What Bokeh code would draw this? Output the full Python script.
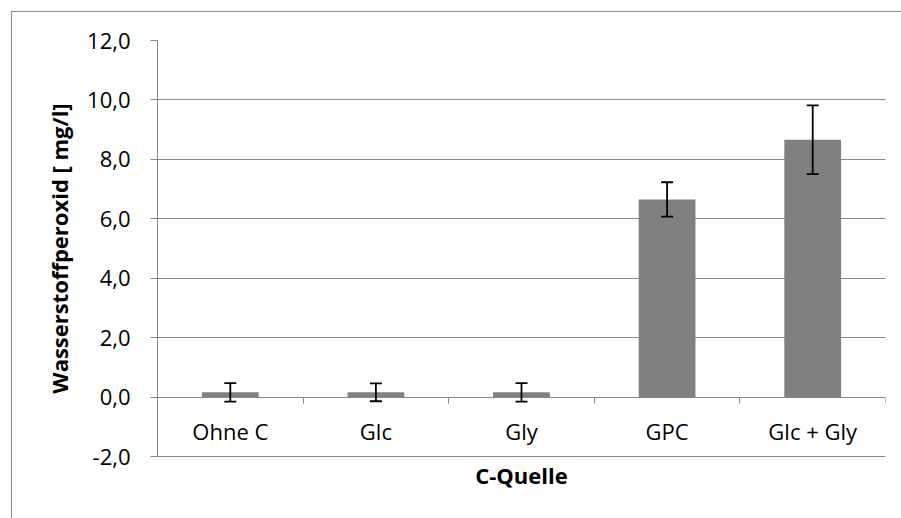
from bokeh.plotting import figure
from bokeh.models import (ColumnDataSource, Range1d, LinearAxis, FixedTicker,
                          CustomJSTickFormatter, Whisker, TeeHead, InlineStyleSheet)
from bokeh.core.properties import value
from bokeh.embed import file_html
from bokeh.resources import INLINE

categories = ["Ohne C", "Glc", "Gly", "GPC", "Glc + Gly"]
values = [0.16, 0.16, 0.16, 6.65, 8.66]
errors = [0.31, 0.30, 0.31, 0.58, 1.16]
y_ticks = [-2, 0, 2, 4, 6, 8, 10, 12]

FONT = "Open Sans"
GRID = "#878787"

n = len(categories)
xs = [i + 0.5 for i in range(n)]
src = ColumnDataSource(dict(
    x=xs, top=values, cat=categories, zero=[0] * n,
    upper=[v + e for v, e in zip(values, errors)],
    lower=[v - e for v, e in zip(values, errors)],
))

p = figure(width=901, height=518, output_backend="svg", toolbar_location=None,
           x_range=Range1d(0, n), y_range=Range1d(y_ticks[0], y_ticks[-1]),
           min_border_left=157, min_border_right=16, min_border_top=40,
           min_border_bottom=62)
p.outline_line_color = None
p.background_fill_color = "white"
p.border_fill_color = None

# chart-area border: top and left edges (right/bottom lie outside the picture)
p.stylesheets = [InlineStyleSheet(css=(
    ":host { background-color: white;"
    " background-image: linear-gradient(#878787, #878787), linear-gradient(#878787, #878787);"
    " background-size: 1px 100%, 100% 1px;"
    " background-position: 11px 11px, 11px 11px;"
    " background-repeat: no-repeat; }"
))]

# bottom axis: its line is the -2 gridline; carries the x title
ax1 = p.xaxis[0]
ax1.ticker = FixedTicker(ticks=[])
ax1.major_tick_out = 0
ax1.major_tick_in = 0
ax1.minor_tick_out = 0
ax1.minor_tick_in = 0
ax1.major_label_standoff = 0
ax1.axis_line_color = GRID
ax1.axis_label = "C-Quelle"
ax1.axis_label_text_font = FONT
ax1.axis_label_text_font_style = "bold"
ax1.axis_label_text_font_size = "22px"
ax1.axis_label_text_color = "black"
ax1.axis_label_standoff = 3

# category axis line crossing at y = 0 with boundary ticks
ax2 = LinearAxis(fixed_location=0,
                 ticker=FixedTicker(ticks=[], minor_ticks=list(range(n + 1))))
ax2.major_tick_out = 0
ax2.major_tick_in = 0
ax2.minor_tick_out = 6
ax2.minor_tick_in = 0
ax2.minor_tick_line_color = GRID
ax2.axis_line_color = GRID
ax2.major_label_standoff = 0
p.add_layout(ax2, "below")

# y axis
ay = p.yaxis[0]
ay.ticker = FixedTicker(ticks=y_ticks)
ay.formatter = CustomJSTickFormatter(code="return tick.toFixed(1).replace('.', ',');")
ay.major_tick_out = 7
ay.major_tick_in = 0
ay.minor_tick_out = 0
ay.minor_tick_in = 0
ay.major_tick_line_color = GRID
ay.axis_line_color = GRID
ay.major_label_standoff = 20
ay.major_label_text_font = FONT
ay.major_label_text_font_size = "22px"
ay.major_label_text_color = "black"
ay.axis_label = "Wasserstoffperoxid [ mg/l]"
ay.axis_label_text_font = FONT
ay.axis_label_text_font_style = "bold"
ay.axis_label_text_font_size = "22px"
ay.axis_label_text_color = "black"
ay.axis_label_standoff = 10

p.xgrid.visible = False
p.ygrid.ticker = FixedTicker(ticks=y_ticks)
p.ygrid.grid_line_color = GRID
p.ygrid.grid_line_width = 1

p.vbar(x="x", top="top", bottom=0, width=0.39, source=src,
       fill_color="#808080", line_color=None)

wh = Whisker(base="x", upper="upper", lower="lower", source=src,
             line_color="black", line_width=1.8,
             upper_head=TeeHead(size=12, line_color="black", line_width=1.8),
             lower_head=TeeHead(size=12, line_color="black", line_width=1.8))
wh.level = "annotation"
p.add_layout(wh)

# category names below the zero line
p.text(x="x", y="zero", text="cat", source=src, text_align="center",
       text_baseline="middle", y_offset=34, text_font=value(FONT),
       text_font_size="22px", text_color="black")

open("out.html", "w").write(file_html(p, INLINE))
